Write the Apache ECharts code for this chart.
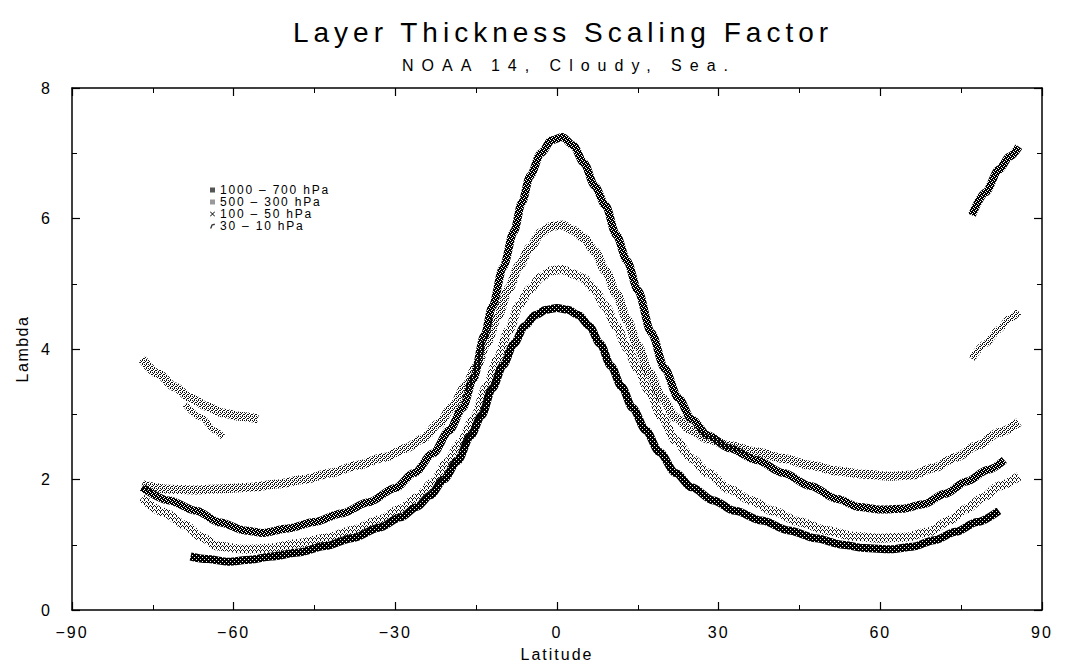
<!DOCTYPE html>
<html>
<head>
<meta charset="utf-8">
<title>Layer Thickness Scaling Factor</title>
<script src="https://cdn.jsdelivr.net/npm/echarts@6.0.0/dist/echarts.min.js"></script>
<style>
    html, body { margin: 0; padding: 0; background: #fff; }
    #main { width: 1070px; height: 667px; }
</style>
</head>
<body>
<div id="main"></div>
<script>
// 图例名称
var layerNames = ['1000 \u2013 700 hPa', '500 \u2013 300 hPa', '100 \u2013 50 hPa', '30 \u2013 10 hPa'];

// 1000 - 700 hPa (峰值 7.2)
var latA = [-77, -72, -67, -62.5, -58, -54.5, -50, -45, -40, -35, -30, -26.5, -23, -20, -17.5, -15.5, -13.5, -12, -10, -8, -6.5, -5, -3, -1, 1, 3, 5, 7, 9, 11, 13, 15, 17.5, 20, 22.5, 25, 28, 32, 37, 42, 47, 52, 56, 60, 64, 68, 72, 76, 80, 83];
var lamA = [1.88, 1.68, 1.52, 1.34, 1.22, 1.18, 1.25, 1.35, 1.48, 1.65, 1.87, 2.1, 2.4, 2.75, 3.1, 3.55, 4.2, 4.65, 5.25, 5.8, 6.25, 6.65, 7.0, 7.2, 7.25, 7.12, 6.85, 6.5, 6.2, 5.75, 5.35, 4.9, 4.25, 3.7, 3.25, 2.92, 2.68, 2.48, 2.3, 2.1, 1.9, 1.7, 1.58, 1.54, 1.55, 1.62, 1.78, 1.97, 2.15, 2.3];
var latA2 = [77, 79.5, 82, 84, 85.7];
var lamA2 = [6.05, 6.4, 6.75, 6.95, 7.1];

// 500 - 300 hPa (峰值 5.85)
var latB = [-77, -72, -67, -62, -57, -52, -47, -42, -37, -32, -28, -25, -22, -19.5, -17, -15, -13, -11, -9, -7, -5, -3, -1, 1, 3, 5, 7, 9, 11, 13, 15, 17, 19.5, 22, 25, 28, 32, 37, 42, 47, 52, 57, 62, 66, 70, 74, 78, 82, 85.7];
var lamB = [1.92, 1.85, 1.84, 1.86, 1.88, 1.93, 2.0, 2.1, 2.22, 2.34, 2.48, 2.62, 2.85, 3.1, 3.42, 3.72, 4.1, 4.5, 4.92, 5.28, 5.55, 5.78, 5.88, 5.9, 5.82, 5.7, 5.5, 5.2, 4.85, 4.45, 4.05, 3.65, 3.25, 2.95, 2.75, 2.62, 2.52, 2.42, 2.32, 2.22, 2.13, 2.08, 2.05, 2.07, 2.18, 2.34, 2.52, 2.72, 2.88];
var latB2 = [-77, -74, -71, -68, -65, -62, -59, -55.5];
var lamB2 = [3.85, 3.62, 3.42, 3.25, 3.12, 3.02, 2.97, 2.93];
var latB3 = [-69, -66, -63.5, -62];
var lamB3 = [3.15, 2.95, 2.75, 2.65];
var latB4 = [77, 79.5, 82, 84, 85.7];
var lamB4 = [3.85, 4.08, 4.3, 4.47, 4.57];

// 100 - 50 hPa (峰值 4.6)
var latD = [-68, -65, -61, -57, -53, -48, -43, -38, -33, -29, -26, -23.5, -21, -18.5, -16, -14, -12, -10, -8, -6, -4, -2, 0, 2, 4, 6, 8, 10, 12, 14, 16.5, 19, 22, 25, 29, 33, 38, 43, 48, 53, 57, 62, 66, 70, 74, 78, 82];
var lamD = [0.82, 0.78, 0.74, 0.77, 0.82, 0.88, 0.98, 1.1, 1.26, 1.42, 1.58, 1.76, 2.0, 2.28, 2.67, 2.98, 3.4, 3.75, 4.08, 4.35, 4.52, 4.6, 4.63, 4.6, 4.52, 4.35, 4.08, 3.74, 3.42, 3.1, 2.75, 2.42, 2.1, 1.88, 1.68, 1.52, 1.37, 1.22, 1.1, 1.0, 0.95, 0.93, 0.97, 1.07, 1.2, 1.35, 1.52];

// 30 - 10 hPa (峰值 5.2)
var latC = [-77, -73, -69, -66, -63, -58, -53, -48, -43, -38, -33, -29, -26, -23, -20.5, -18, -15.5, -13, -11, -9, -7, -5, -3, -1, 1, 3, 5, 7, 9, 11, 13, 15, 17, 19.5, 22, 25, 28, 32, 36, 40, 45, 50, 55, 60, 65, 69, 73, 76, 79, 82, 85.7];
var lamC = [1.72, 1.5, 1.3, 1.12, 0.98, 0.93, 0.95, 1.02, 1.1, 1.22, 1.38, 1.55, 1.72, 1.95, 2.25, 2.55, 2.92, 3.42, 3.85, 4.28, 4.67, 4.92, 5.1, 5.2, 5.22, 5.15, 5.08, 4.9, 4.65, 4.35, 4.02, 3.7, 3.37, 2.95, 2.6, 2.32, 2.1, 1.85, 1.68, 1.52, 1.35, 1.22, 1.13, 1.1, 1.12, 1.2, 1.38, 1.55, 1.72, 1.9, 2.05];

function zip(xs, ys) {
    return xs.map(function (x, i) { return [x, ys[i]]; });
}

// 扫描图的点状纹理
function stipple(rows, color) {
    var c = document.createElement('canvas');
    c.width = rows[0].length;
    c.height = rows.length;
    var ctx = c.getContext('2d');
    ctx.fillStyle = color;
    rows.forEach(function (r, y) {
        for (var x = 0; x < r.length; x++) {
            if (r[x] === '1') ctx.fillRect(x, y, 1, 1);
        }
    });
    return { image: c, repeat: 'repeat' };
}

var darkTex = stipple(['1101', '0111', '1110', '1011'], '#000');
var lightTex = stipple(['1010', '0100', '1001', '0010'], '#111');
var paleTex = stipple(['1000', '0010', '0101', '1000'], '#111');
var solidTex = stipple(['1111', '1101', '1111', '0111'], '#000');

function band(name, lat, lam, tex, width) {
    return {
        name: name,
        type: 'line',
        data: zip(lat, lam),
        symbol: 'none',
        smooth: 0.3,
        smoothMonotone: 'x',
        silent: true,
        lineStyle: { color: tex, width: width, cap: 'butt' },
        itemStyle: { color: '#000' }
    };
}

var axisFont = { fontFamily: '"Liberation Sans", Arial, sans-serif', fontSize: 16, color: '#000' };
function tickFmt(v) {
    return v < 0 ? '\u2212' + Math.abs(v) : String(v);
}

var frameLine = { onZero: false, lineStyle: { color: '#000', width: 1.5 } };
var majorTick = { inside: true, length: 8, lineStyle: { color: '#000', width: 1.2 } };
var minorTick = { show: true, splitNumber: 2, length: 5, lineStyle: { color: '#000', width: 1 } };

var myChart = echarts.init(document.getElementById('main'), null, { renderer: 'svg' });

var option = {
    animation: false,
    backgroundColor: '#fff',
    title: [
        {
            text: 'Layer Thickness Scaling Factor',
            left: 558, top: 13, textAlign: 'center',
            textStyle: { fontFamily: '"Liberation Sans", Arial, sans-serif', fontSize: 28, fontWeight: 'normal', color: '#000' }
        },
        {
            text: 'NOAA 14, Cloudy, Sea.',
            left: 564, top: 52, textAlign: 'center',
            textStyle: { fontFamily: '"Liberation Sans", Arial, sans-serif', fontSize: 16, fontWeight: 'normal', color: '#000' }
        }
    ],
    legend: {
        orient: 'vertical',
        left: 205, top: 179,
        itemGap: 0,
        itemWidth: 5, itemHeight: 5,
        selectedMode: false,
        textStyle: { fontFamily: '"Liberation Sans", Arial, sans-serif', fontSize: 12, color: '#000' },
        data: [
            { name: layerNames[0], icon: 'rect', itemStyle: { color: '#555' } },
            { name: layerNames[1], icon: 'rect', itemStyle: { color: '#999' } },
            { name: layerNames[2], icon: 'path://M0,1L1,0L5,4L9,0L10,1L6,5L10,9L9,10L5,6L1,10L0,9L4,5Z', itemStyle: { color: '#000' } },
            { name: layerNames[3], icon: 'path://M0,10L3,2L9,0L10,3L5,4L3,10Z', itemStyle: { color: '#333' } }
        ]
    },
    grid: { left: 72, right: 28, top: 88, bottom: 57, containLabel: false, outerBoundsMode: 'none' },
    xAxis: [
        {
            type: 'value', min: -90, max: 90, interval: 30,
            name: 'Latitude', nameLocation: 'middle', nameGap: 36,
            nameTextStyle: axisFont,
            axisLine: frameLine, axisTick: majorTick, minorTick: minorTick,
            axisLabel: Object.assign({ margin: 14, formatter: tickFmt }, axisFont),
            splitLine: { show: false }
        },
        {
            type: 'value', min: -90, max: 90, interval: 30, position: 'top',
            axisLine: frameLine, axisTick: majorTick, minorTick: minorTick,
            axisLabel: { show: false },
            splitLine: { show: false }
        }
    ],
    yAxis: [
        {
            type: 'value', min: 0, max: 8, interval: 2,
            name: 'Lambda', nameLocation: 'middle', nameGap: 42,
            nameTextStyle: axisFont,
            axisLine: frameLine, axisTick: majorTick, minorTick: minorTick,
            axisLabel: Object.assign({ margin: 20, formatter: tickFmt }, axisFont),
            splitLine: { show: false }
        },
        {
            type: 'value', min: 0, max: 8, interval: 2, position: 'right',
            axisLine: frameLine, axisTick: majorTick, minorTick: minorTick,
            axisLabel: { show: false },
            splitLine: { show: false }
        }
    ],
    series: [
        band(layerNames[0], latA, lamA, darkTex, 8),
        band(layerNames[0], latA2, lamA2, darkTex, 8),
        band(layerNames[1], latB, lamB, lightTex, 9),
        band(layerNames[1], latB2, lamB2, lightTex, 9),
        band(layerNames[1], latB3, lamB3, lightTex, 6),
        band(layerNames[1], latB4, lamB4, lightTex, 7),
        band(layerNames[2], latD, lamD, solidTex, 8),
        band(layerNames[3], latC, lamC, paleTex, 9)
    ]
};

// 原图字距很宽
var spacing = {
    'Layer Thickness Scaling Factor': 5,
    'NOAA 14, Cloudy, Sea.': 8,
    'Latitude': 2,
    'Lambda': 1.5
};
myChart.on('finished', function () {
    document.querySelectorAll('#main text').forEach(function (t) {
        var s = spacing[t.textContent];
        if (s == null) {
            if (/hPa/.test(t.textContent)) s = 1.8;
            else if (/^[\u22120-9]+$/.test(t.textContent)) s = 2;
            else s = 0;
        }
        if (s) t.style.letterSpacing = s + 'px';
    });
});

myChart.setOption(option);
</script>
</body>
</html>
